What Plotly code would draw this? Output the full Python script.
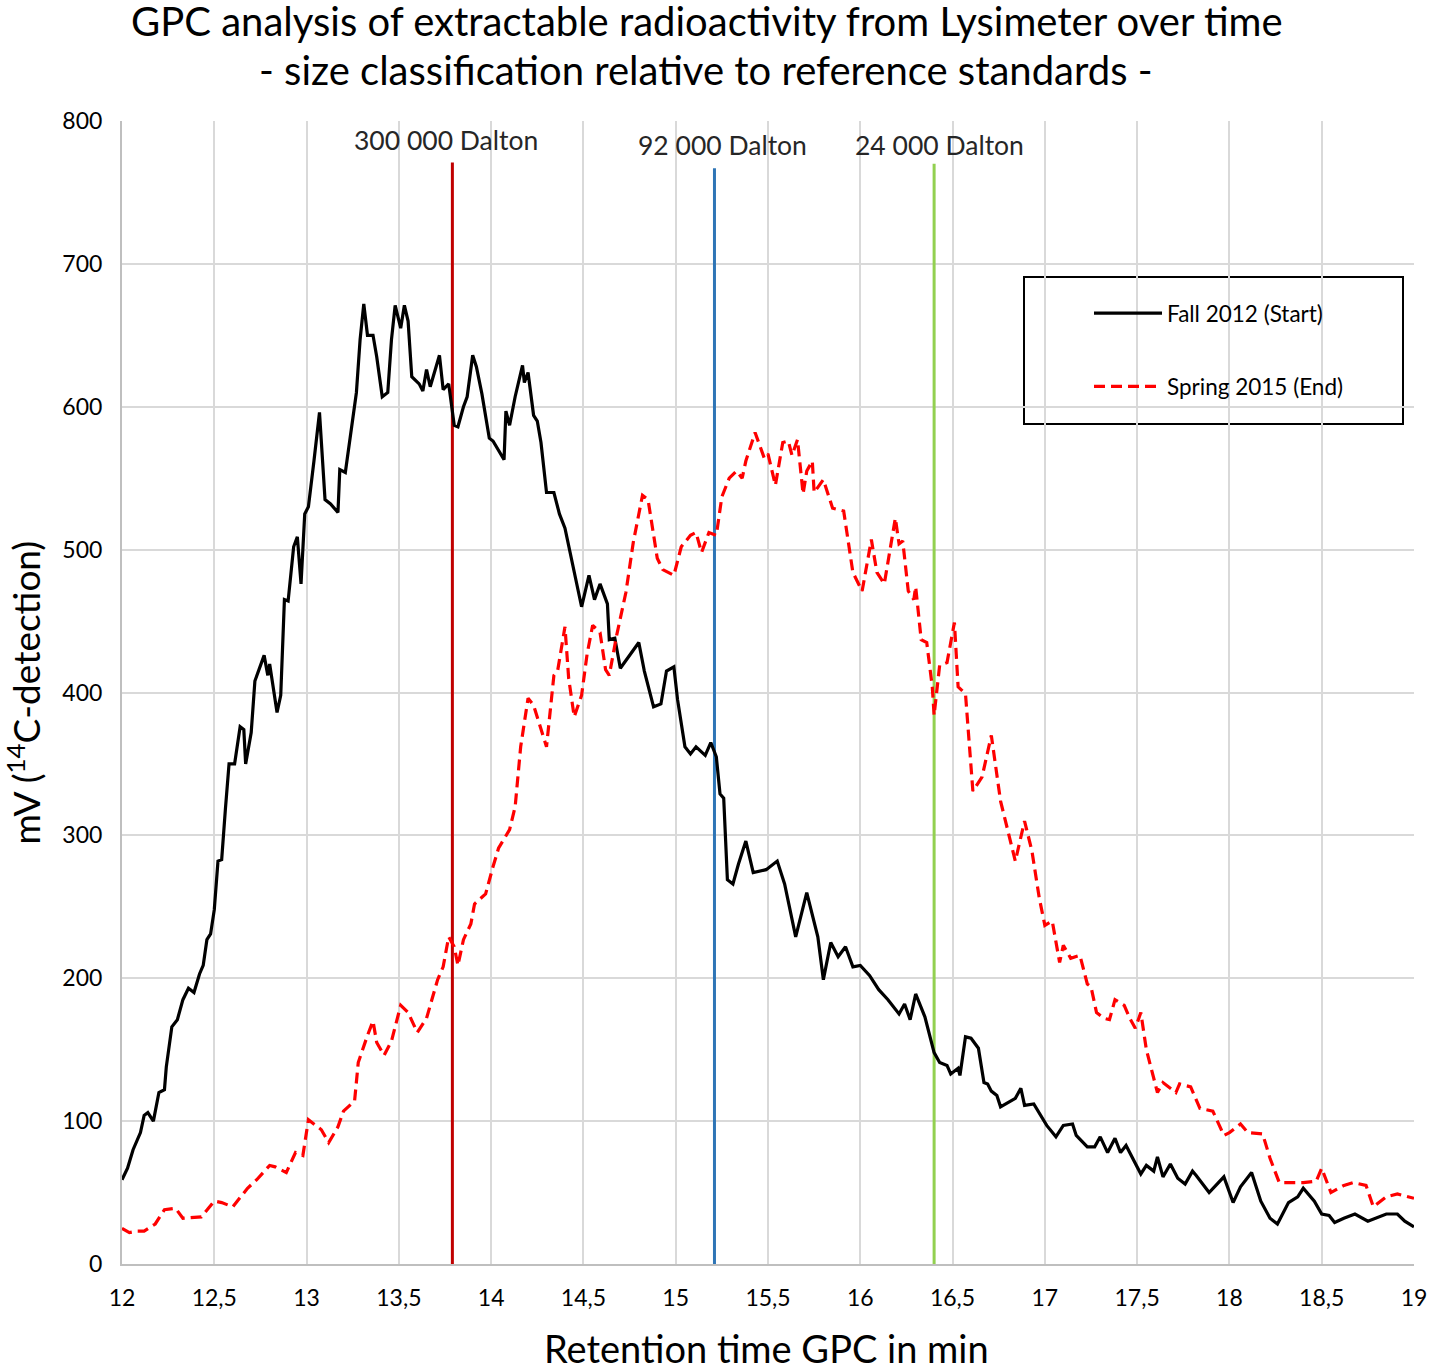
import plotly.graph_objects as go

# Fall 2012 (Start) - retention time (min) and signal (mV)
fall_t = [12.00, 12.03, 12.06, 12.10, 12.12, 12.14, 12.17, 12.20, 12.23, 12.24, 12.27, 12.30, 12.33, 12.36,
          12.39, 12.42, 12.44, 12.46, 12.48, 12.50, 12.52, 12.54, 12.56, 12.58, 12.61, 12.64, 12.66, 12.67,
          12.70, 12.72, 12.77, 12.79, 12.80, 12.84, 12.86, 12.88, 12.90, 12.93, 12.95, 12.97, 12.99, 13.01,
          13.04, 13.07, 13.10, 13.13, 13.17, 13.18, 13.21, 13.24, 13.27, 13.29, 13.31, 13.33, 13.36, 13.38,
          13.41, 13.44, 13.46, 13.48, 13.51, 13.53, 13.55, 13.57, 13.61, 13.63, 13.65, 13.67, 13.72, 13.74,
          13.77, 13.80, 13.82, 13.85, 13.87, 13.90, 13.92, 13.95, 13.99, 14.01, 14.04, 14.07, 14.08, 14.10,
          14.13, 14.17, 14.18, 14.20, 14.23, 14.25, 14.27, 14.30, 14.34, 14.37, 14.40, 14.44, 14.46, 14.49,
          14.53, 14.56, 14.59, 14.63, 14.64, 14.67, 14.70, 14.75, 14.80, 14.83, 14.88, 14.92, 14.95, 14.99,
          15.01, 15.05, 15.08, 15.11, 15.16, 15.19, 15.22, 15.24, 15.26, 15.28, 15.31, 15.34, 15.38, 15.42,
          15.49, 15.55, 15.59, 15.65, 15.71, 15.77, 15.80, 15.84, 15.88, 15.92, 15.96, 16.00, 16.05, 16.10,
          16.15, 16.21, 16.24, 16.27, 16.30, 16.35, 16.40, 16.43, 16.47, 16.49, 16.53, 16.54, 16.57, 16.60,
          16.64, 16.67, 16.69, 16.71, 16.74, 16.76, 16.81, 16.84, 16.87, 16.89, 16.94, 16.97, 17.01, 17.06,
          17.10, 17.15, 17.17, 17.23, 17.27, 17.30, 17.34, 17.38, 17.41, 17.44, 17.52, 17.55, 17.59, 17.61,
          17.64, 17.68, 17.72, 17.76, 17.80, 17.82, 17.89, 17.97, 18.02, 18.06, 18.12, 18.17, 18.22, 18.26,
          18.32, 18.37, 18.40, 18.46, 18.50, 18.54, 18.57, 18.62, 18.68, 18.75, 18.81, 18.85, 18.91, 18.95,
          19.00]
fall_mv = [59, 67, 80, 92, 104, 106, 100, 120, 122, 138, 166, 171, 185, 193,
           190, 203, 209, 227, 231, 248, 282, 283, 318, 350, 350, 376, 374, 350,
           372, 408, 426, 412, 420, 386, 398, 465, 464, 502, 509, 476, 525, 530,
           562, 596, 535, 532, 526, 556, 554, 582, 610, 647, 672, 650, 650, 635,
           607, 610, 647, 671, 655, 671, 660, 621, 616, 611, 626, 614, 636, 612,
           616, 587, 586, 600, 607, 636, 628, 609, 578, 576, 569, 563, 597, 587,
           607, 629, 617, 624, 594, 590, 575, 540, 540, 525, 515, 490, 480, 460,
           482, 465, 476, 462, 437, 438, 417, 426, 435, 415, 390, 392, 415, 418,
           395, 362, 357, 362, 356, 365, 355, 329, 326, 269, 266, 280, 296, 274,
           276, 282, 266, 229, 260, 229, 199, 225, 215, 222, 208, 209, 202, 192,
           185, 175, 182, 171, 189, 173, 148, 141, 139, 133, 137, 132, 159, 158,
           151, 127, 126, 121, 118, 110, 114, 116, 123, 111, 112, 106, 97, 89,
           97, 98, 90, 82, 82, 89, 78, 88, 78, 83, 63, 69, 65, 75,
           61, 70, 60, 56, 65, 62, 50, 61, 43, 54, 64, 44, 32, 28,
           43, 47, 53, 44, 35, 34, 29, 32, 35, 30, 33, 35, 35, 30,
           26]

# Spring 2015 (End)
spring_t = [12.00, 12.04, 12.08, 12.12, 12.18, 12.23, 12.29, 12.33, 12.43, 12.50, 12.54, 12.60, 12.68, 12.73,
            12.80, 12.83, 12.89, 12.94, 12.98, 13.01, 13.08, 13.12, 13.17, 13.20, 13.26, 13.28, 13.33, 13.36,
            13.38, 13.42, 13.46, 13.51, 13.55, 13.60, 13.65, 13.71, 13.74, 13.77, 13.80, 13.82, 13.85, 13.89,
            13.91, 13.97, 14.01, 14.04, 14.10, 14.13, 14.16, 14.20, 14.23, 14.30, 14.34, 14.36, 14.40, 14.42,
            14.45, 14.49, 14.52, 14.55, 14.59, 14.62, 14.64, 14.68, 14.73, 14.77, 14.82, 14.85, 14.90, 14.93,
            14.99, 15.03, 15.08, 15.11, 15.14, 15.18, 15.22, 15.25, 15.29, 15.33, 15.36, 15.38, 15.43, 15.48,
            15.50, 15.54, 15.58, 15.61, 15.63, 15.66, 15.69, 15.71, 15.74, 15.75, 15.80, 15.85, 15.91, 15.96,
            16.01, 16.06, 16.09, 16.13, 16.19, 16.21, 16.23, 16.26, 16.29, 16.30, 16.33, 16.36, 16.39, 16.40,
            16.43, 16.47, 16.51, 16.53, 16.57, 16.61, 16.66, 16.71, 16.76, 16.84, 16.89, 16.93, 16.97, 17.00,
            17.04, 17.08, 17.10, 17.14, 17.19, 17.23, 17.25, 17.28, 17.32, 17.35, 17.38, 17.43, 17.46, 17.49,
            17.52, 17.55, 17.61, 17.64, 17.71, 17.73, 17.79, 17.84, 17.91, 17.97, 18.00, 18.06, 18.10, 18.18,
            18.22, 18.27, 18.34, 18.40, 18.47, 18.50, 18.55, 18.62, 18.67, 18.74, 18.78, 18.85, 18.91, 19.00]
spring_mv = [25, 22, 23, 23, 28, 38, 39, 32, 33, 44, 43, 40, 53, 59,
             69, 68, 64, 78, 76, 101, 94, 85, 96, 107, 114, 141, 160, 170,
             155, 146, 156, 181, 176, 162, 172, 199, 208, 229, 222, 209, 227, 238,
             252, 259, 278, 291, 304, 320, 362, 396, 391, 362, 412, 415, 446, 410,
             383, 398, 427, 447, 442, 416, 412, 440, 470, 505, 538, 535, 494, 486,
             482, 502, 510, 512, 498, 512, 510, 537, 550, 555, 550, 562, 582, 564,
             567, 545, 575, 576, 566, 577, 539, 555, 562, 540, 549, 529, 527, 484,
             471, 507, 484, 476, 522, 504, 506, 471, 465, 474, 437, 435, 404, 384,
             419, 421, 449, 404, 399, 331, 341, 370, 324, 282, 310, 289, 256, 237,
             240, 211, 223, 214, 216, 196, 194, 176, 172, 171, 185, 181, 172, 165,
             176, 150, 120, 127, 120, 126, 124, 109, 107, 90, 92, 98, 92, 91,
             74, 57, 57, 57, 58, 67, 50, 55, 57, 55, 40, 47, 49, 46]

# reference standards
std_names = ["300 000 Dalton", "92 000 Dalton", "24 000 Dalton"]
std_times = [13.79, 15.21, 16.40]
std_top = [771, 767, 770]
std_colors = ["#c00000", "#2e75b6", "#92d050"]

x_ticks = [12, 12.5, 13, 13.5, 14, 14.5, 15, 15.5, 16, 16.5, 17, 17.5, 18, 18.5, 19]
x_labels = [str(v).replace(".", ",") if v % 1 else str(int(v)) for v in x_ticks]

FONT = "Lato"

fig = go.Figure()

for name, t, top, c in zip(std_names, std_times, std_top, std_colors):
    fig.add_trace(go.Scatter(x=[t, t], y=[0, top], mode="lines",
                             line=dict(color=c, width=3), showlegend=False, hoverinfo="skip"))

fig.add_trace(go.Scatter(x=fall_t, y=fall_mv, mode="lines", name="Fall 2012 (Start)",
                         line=dict(color="black", width=3.2), legendgroup="a"))
fig.add_trace(go.Scatter(x=spring_t, y=spring_mv, mode="lines", name="Spring 2015 (End)",
                         line=dict(color="#ff0000", width=3.2, dash="11px,6px"), legendgroup="b"))

# standard labels
label_y = [787, 783.5, 783.5]
for name, t, ly, dx in zip(std_names, std_times, label_y, [-6, 8, 5]):
    fig.add_annotation(x=t, y=ly, text=name, showarrow=False, xshift=dx,
                       font=dict(family=FONT, size=26.5, color="#262626"))

fig.add_annotation(x=0.5, y=(1264 - 21) / 1143, xref="paper", yref="paper", xshift=-61,
                   yanchor="middle",
                   text="GPC analysis of extractable radioactivity from Lysimeter over time",
                   showarrow=False, font=dict(family=FONT, size=40, color="black"))
fig.add_annotation(x=0.5, y=(1264 - 70) / 1143, xref="paper", yref="paper", xshift=-62.5,
                   yanchor="middle",
                   text="- size classification relative to reference standards -",
                   showarrow=False, font=dict(family=FONT, size=40, color="black"))

# axis titles
fig.add_annotation(x=0.5, y=(1264 - 1348) / 1143, xref="paper", yref="paper", xshift=-2,
                   yanchor="middle", text="Retention time GPC in min",
                   showarrow=False, font=dict(family=FONT, size=38, color="black"))
fig.add_annotation(x=(23 - 122) / 1292, y=0.5, xref="paper", yref="paper", textangle=-90,
                   xanchor="center", yanchor="middle", text="mV (<sup>14</sup>C-detection)",
                   showarrow=False, font=dict(family=FONT, size=37, color="black"))

# legend frame
fig.add_shape(type="rect", xref="paper", yref="paper",
              x0=(1024 - 122) / 1292, x1=(1403 - 122) / 1292,
              y0=(1264 - 424) / 1143, y1=(1264 - 277) / 1143,
              line=dict(color="black", width=2), fillcolor="white", layer="below")

fig.update_layout(
    width=1429, height=1363,
    margin=dict(l=122, r=15, t=121, b=99),
    plot_bgcolor="white", paper_bgcolor="white",
    font=dict(family=FONT, color="black"),
    legend=dict(x=(1089 - 122) / 1292, y=(1264 - 292) / 1143, xanchor="left", yanchor="top",
                bgcolor="rgba(0,0,0,0)", borderwidth=0, itemwidth=68,
                tracegroupgap=41, font=dict(family=FONT, size=22.5, color="black")),
    xaxis=dict(range=[12, 19], tickvals=x_ticks, ticktext=x_labels, automargin=False,
               showgrid=True, gridcolor="#d9d9d9", gridwidth=2,
               showline=True, linecolor="#bfbfbf", linewidth=2, zeroline=False,
               tickfont=dict(family=FONT, size=23, color="black"), ticks="",
               ticklabelstandoff=12, ticklabeloverflow="allow"),
    yaxis=dict(range=[0, 800], dtick=100, automargin=False,
               showgrid=True, gridcolor="#d9d9d9", gridwidth=2,
               showline=True, linecolor="#bfbfbf", linewidth=2, zeroline=False,
               tickfont=dict(family=FONT, size=23, color="black"), ticks="",
               ticklabelstandoff=13),
)

# drop the default 8px page margin so the figure fills the window exactly
fig.write_html("out.html", config={"displayModeBar": False},
               post_script="document.body.style.margin='0';document.body.style.overflow='hidden';")
